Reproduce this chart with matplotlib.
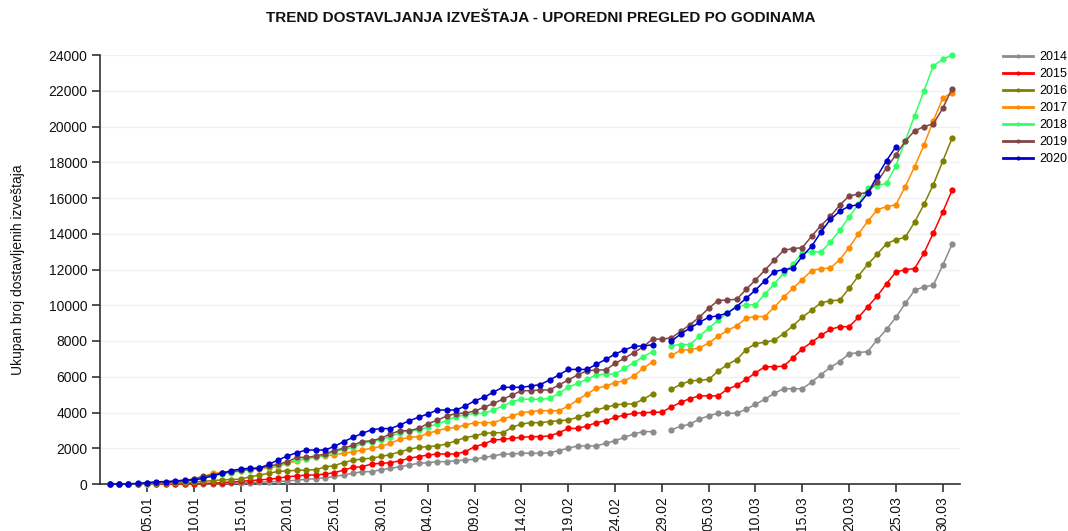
import matplotlib
matplotlib.use("Agg")
import matplotlib.pyplot as plt
import numpy as np
import pandas as pd
from matplotlib.lines import Line2D

plt.rcParams['font.family'] = ['Liberation Sans', 'DejaVu Sans']

# categories: days 01.01 .. 31.03 (incl. 29.02)
dates = list(pd.date_range('2020-01-01', '2020-03-31').strftime('%d.%m'))

N = None
y2014 = [0, 0, 0, 0, 0, 0, 0, 0, 0, 0, 0,
         10, 20, 40, 60, 80, 100, 120,
         140, 170, 220, 260, 300, 350, 420, 500, 600, 690, 690, 800,
         870, 970, 1060, 1160, 1190, 1250, 1250, 1300, 1340, 1380,
         1490, 1570, 1680, 1680, 1720, 1720, 1720, 1750, 1870, 2000,
         2130, 2130, 2130, 2280, 2420, 2610, 2800, 2930, 2930, N,
         3040, 3220, 3350, 3630, 3810, 3960, 3960, 3960, 4180, 4460,
         4740, 5070, 5330, 5330, 5330, 5700, 6120, 6530, 6850, 7280,
         7350, 7410, 8060, 8650, 9320, 10100, 10840, 11030, 11120, 12240, 13410]
y2015 = [0, 0, 0, 0, 0, 0, 0, 0, 0,
         10, 30, 50, 80, 110, 150, 190, 230, 270,
         320, 410, 450, 500, 500, 560, 630, 780, 930, 970, 1120, 1160,
         1190, 1300, 1440, 1530, 1620, 1680, 1680, 1680, 1810, 2090,
         2240, 2460, 2500, 2560, 2610, 2650, 2650, 2690, 2870, 3110,
         3110, 3250, 3430, 3540, 3730, 3860, 3950, 3990, 4010, 4020,
         4310, 4560, 4780, 4930, 4930, 4930, 5300, 5520, 5850, 6220,
         6560, 6560, 6590, 7060, 7560, 7930, 8310, 8650, 8800, 8800,
         9320, 9920, 10510, 11210, 11860, 11990, 12050, 12920, 14040, 15210, 16420]
y2016 = [0, 0, 0, 0, 10, 20, 30, 50, 80, 110, 150, 190, 230, 250,
         280, 400, 500, 600, 700, 740, 760, 780, 800, 950,
         1030, 1200, 1330, 1400, 1440, 1540, 1650, 1800, 1940, 2050,
         2090, 2130, 2240, 2420, 2600, 2690, 2830, 2870, 2870, 3170,
         3360, 3430, 3430, 3490, 3540, 3580, 3730, 3920, 4140, 4290,
         4420, 4480, 4480, 4740, 5040, N,
         5300, 5570, 5760, 5810, 5850, 6310, 6680, 6960, 7520, 7850,
         7930, 8040, 8410, 8850, 9330, 9720, 10140, 10250, 10290, 10940,
         11640, 12290, 12850, 13440, 13670, 13800, 14650, 15640, 16750, 18050, 19350]
y2017 = [0, 0, 0, 0, 20, 40, 70, 110, 170, 260,
         400, 600, 640, 690, 740, 790, 840, 900, 1000, 1150,
         1300, 1420, 1500, 1560, 1640, 1720, 1800, 1900, 2000, 2100,
         2280, 2500, 2610, 2650, 2830, 2980, 3110, 3170, 3300, 3430,
         3430, 3430, 3620, 3800, 3990, 4050, 4100, 4100, 4100, 4360,
         4700, 5040, 5350, 5480, 5670, 5780, 6040, 6470, 6840, N,
         7190, 7480, 7520, 7610, 7890, 8260, 8590, 8850, 9280, 9370,
         9370, 9890, 10450, 10940, 11440, 11940, 12050, 12080, 12550, 13220,
         14000, 14690, 15340, 15520, 15620, 16640, 17750, 18960, 20320, 21580, 21900]
y2018 = [0, 0, 0, 0, 20, 40, 70, 110, 170, 260,
         380, 480, 560, 640, 720, 800, 870, 960, 1060, 1200,
         1350, 1420, 1500, 1620, 1800, 1940, 2050, 2270, 2370, 2460,
         2650, 2870, 2980, 3000, 3200, 3350, 3550, 3770, 3860, 3950,
         3950, 4140, 4360, 4610, 4740, 4740, 4740, 4790, 5070, 5410,
         5630, 5860, 6100, 6150, 6150, 6470, 6790, 7120, 7410, N,
         7740, 7800, 7800, 8260, 8720, 9150, 9560, 9930, 10020, 10020,
         10630, 11190, 11780, 12300, 12930, 12980, 12980, 13530, 14190, 14930,
         15670, 16560, 16690, 16820, 17810, 19200, 20600, 21990, 23390, 23760, 24000]
y2019 = [0, 0, 0, 0, 30, 50, 80, 120, 180, 300,
         420, 520, 600, 680, 760, 840, 900, 1000, 1100, 1250,
         1490, 1490, 1560, 1680, 1870, 2000, 2180, 2370, 2420, 2560,
         2800, 2980, 2980, 3110, 3380, 3560, 3800, 3940, 3970, 4080,
         4290, 4510, 4740, 4980, 5220, 5220, 5260, 5260, 5540, 5820,
         6100, 6340, 6380, 6380, 6750, 7030, 7350, 7680, 8100, 8110,
         8170, 8540, 8910, 9330, 9830, 10260, 10300, 10330, 10890, 11410,
         11960, 12520, 13070, 13170, 13220, 13860, 14460, 14970, 15600, 16110,
         16220, 16320, 16900, 17680, 18420, 19170, 19760, 19990, 20150, 21010, 22120]
y2020 = [0, 0, 0, 40, 75, 130, 130, 170, 220, 220,
         320, 450, 600, 750, 840, 880, 880, 1100, 1340, 1570,
         1750, 1900, 1900, 1900, 2100, 2370, 2610, 2830, 3040, 3100,
         3100, 3300, 3540, 3730, 3920, 4140, 4140, 4140, 4360, 4660,
         4850, 5140, 5410, 5410, 5410, 5480, 5560, 5820, 6100, 6410,
         6410, 6410, 6700, 6970, 7270, 7500, 7700, 7720, 7790, N,
         7980, 8390, 8720, 9040, 9330, 9410, 9560, 9930, 10390, 10850,
         11370, 11870, 12000, 12060, 12740, 13300, 14100, 14800, 15260, 15540,
         15620, 16270, 17220, 18090, 18870, N, N, N, N, N, N]

years = ['2014', '2015', '2016', '2017', '2018', '2019', '2020']
series = [y2014, y2015, y2016, y2017, y2018, y2019, y2020]
colors = ['#8c8c8c', '#ff0000', '#808000', '#ff8c00', '#33ff66', '#804545', '#0000cc']

yticks = list(range(0, 24001, 2000))
tick_idx = list(range(4, len(dates), 5))

fig = plt.figure(figsize=(10.68, 5.31), dpi=100)
ax = fig.add_axes([100 / 1068, 47 / 531, 860 / 1068, 429 / 531])

x = np.arange(len(dates))
for yr, vals, c in zip(years, series, colors):
    v = np.array([np.nan if a is None else a for a in vals], dtype=float)
    ax.plot(x, v, color=c, lw=1.1, marker='o', markersize=4.5,
            markeredgewidth=0, clip_on=False, zorder=3)

ax.set_xlim(-1.03, 90.85)
ax.set_ylim(0, 24000)
ax.set_yticks(yticks)
ax.set_yticklabels([str(t) for t in yticks], fontsize=10)
ax.set_xticks(tick_idx)
ax.set_xticklabels([dates[i] for i in tick_idx], rotation=90, fontsize=10)

ax.yaxis.grid(True, color='#f0f0f0', lw=1)
ax.set_axisbelow(True)
for s in ['top', 'right']:
    ax.spines[s].set_visible(False)
for s in ['left', 'bottom']:
    ax.spines[s].set_color('#333333')
    ax.spines[s].set_linewidth(1.2)
ax.tick_params(axis='both', direction='out', length=6, width=1.2, color='#333333',
               labelcolor='#111111', pad=3)

ax.set_ylabel('Ukupan broj dostavljenih izveštaja', fontsize=10, labelpad=17, color='#111111')

fig.text(541 / 1068, 1 - 18 / 531,
         'TREND DOSTAVLJANJA IZVEŠTAJA - UPOREDNI PREGLED PO GODINAMA',
         ha='center', va='center', fontsize=11, fontweight='bold', color='#111111')

handles = [Line2D([0], [0], color=c, lw=2, marker='o', markersize=3, markeredgewidth=0)
           for c in colors]
fig.legend(handles, years, loc='upper left', bbox_to_anchor=(1003 / 1068, 1 - 51 / 531),
           frameon=False, fontsize=9, handlelength=2.4, handletextpad=0.5,
           labelspacing=0.4, borderpad=0, borderaxespad=0)

fig.savefig('out.png', dpi=100)
